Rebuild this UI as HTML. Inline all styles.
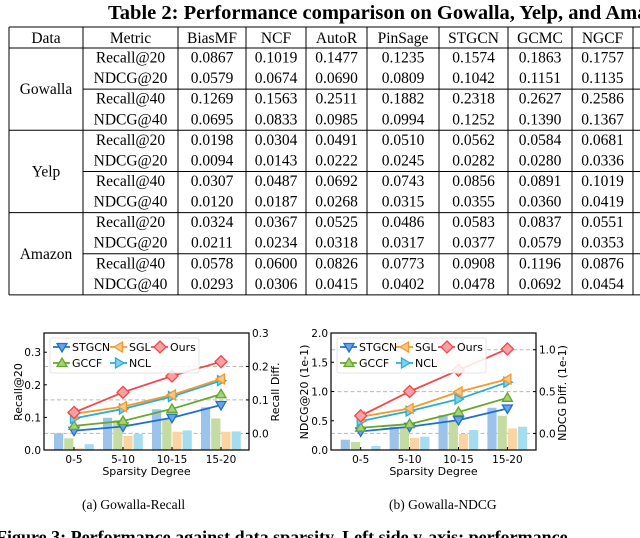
<!DOCTYPE html>
<html><head><meta charset="utf-8"><style>
html,body{margin:0;padding:0;background:#fff;}
svg{display:block;}
.serif{font-family:"Liberation Serif",serif;}
.sans{font-family:"DejaVu Sans","Liberation Sans",sans-serif;}
</style></head><body>
<svg id="page" width="640" height="538" viewBox="0 0 640 538" xmlns="http://www.w3.org/2000/svg">
<text class="serif" x="108" y="19" font-size="20.5" font-weight="bold">Table 2: Performance comparison on Gowalla, Yelp, and Amazon</text>
<g id="table"></g>
<g id="chart1"></g>
<g id="chart2"></g>
<text class="serif" x="82" y="509" font-size="13.5">(a)  Gowalla-Recall</text>
<text class="serif" x="389" y="509" font-size="13.5">(b)  Gowalla-NDCG</text>
<text class="serif" x="-4" y="543" font-size="18" font-weight="bold">Figure 3: Performance against data sparsity. Left side y-axis: performance</text>
</svg>
<script>
const NS='http://www.w3.org/2000/svg';
function mk(parent,tag,attrs,txt){const e=document.createElementNS(NS,tag);for(const k in attrs)e.setAttribute(k,attrs[k]);if(txt!==undefined)e.textContent=txt;parent.appendChild(e);return e;}

// ---------- TABLE ----------
const tableHeaders=['Data','Metric','BiasMF','NCF','AutoR','PinSage','STGCN','GCMC','NGCF',''];
const datasets=['Gowalla','Yelp','Amazon'];
const metrics=['Recall@20','NDCG@20','Recall@40','NDCG@40'];
const tableValues=[
['0.0867','0.1019','0.1477','0.1235','0.1574','0.1863','0.1757'],
['0.0579','0.0674','0.0690','0.0809','0.1042','0.1151','0.1135'],
['0.1269','0.1563','0.2511','0.1882','0.2318','0.2627','0.2586'],
['0.0695','0.0833','0.0985','0.0994','0.1252','0.1390','0.1367'],
['0.0198','0.0304','0.0491','0.0510','0.0562','0.0584','0.0681'],
['0.0094','0.0143','0.0222','0.0245','0.0282','0.0280','0.0336'],
['0.0307','0.0487','0.0692','0.0743','0.0856','0.0891','0.1019'],
['0.0120','0.0187','0.0268','0.0315','0.0355','0.0360','0.0419'],
['0.0324','0.0367','0.0525','0.0486','0.0583','0.0837','0.0551'],
['0.0211','0.0234','0.0318','0.0317','0.0377','0.0579','0.0353'],
['0.0578','0.0600','0.0826','0.0773','0.0908','0.1196','0.0876'],
['0.0293','0.0306','0.0415','0.0402','0.0478','0.0692','0.0454']];
(function(){
 const g=document.getElementById('table');
 const cx=[9,83,178,246,306,367,439,508,572,633,700];
 const top=27,hb=48,gh=82.3;
 const L=(x1,y1,x2,y2,w)=>{const l=mk(g,'line',{x1,y1,x2,y2,stroke:'#000','stroke-width':w||1});};
 L(cx[0],top,640,top);L(cx[0],hb,640,hb);
 for(let d=0;d<3;d++){const yb=hb+gh*(d+1);L(cx[0],yb,640,yb);L(cx[1],hb+gh*d+gh/2,640,hb+gh*d+gh/2);}
 for(let i=0;i<10;i++)L(cx[i],top,cx[i],hb+gh*3);
 tableHeaders.forEach((h,i)=>{if(!h)return;const t=mk(g,'text',{x:(cx[i]+cx[i+1])/2,y:43,'text-anchor':'middle','font-size':15.5,class:'serif'},h);});
 datasets.forEach((d,di)=>{
  const t=mk(g,'text',{x:(cx[0]+cx[1])/2,y:hb+gh*di+gh/2+5,'text-anchor':'middle','font-size':15.5,class:'serif'},d);
  
  metrics.forEach((m,mi)=>{
   const y=hb+gh*di+9.5+mi*20.6+5;
   const r=di*4+mi;
   const mt=mk(g,'text',{x:(cx[1]+cx[2])/2,y:y,'text-anchor':'middle','font-size':15.5,class:'serif'},m);
   
   tableValues[r].forEach((v,vi)=>{const vt=mk(g,'text',{x:(cx[vi+2]+cx[vi+3])/2,y:y,'text-anchor':'middle','font-size':15.5,class:'serif'},v);
    });
  });
 });
})();

// ---------- CHART DATA ----------
const categories=['0-5','5-10','10-15','15-20'];
const seriesNames=['STGCN','GCCF','SGL','NCL','Ours'];
const recallOurs=[0.115,0.177,0.227,0.271];
const recallSGL=[0.111,0.133,0.169,0.218];
const recallNCL=[0.097,0.126,0.164,0.213];
const recallGCCF=[0.074,0.089,0.126,0.171];
const recallSTGCN=[0.059,0.072,0.099,0.138];
const recallBarSTGCN=[0.051,0.099,0.125,0.131];
const recallBarGCCF=[0.036,0.092,0.094,0.097];
const recallBarSGL=[0.005,0.043,0.056,0.056];
const recallBarNCL=[0.018,0.049,0.060,0.057];
const recallLeftTicks=['0.0','0.1','0.2','0.3'];
const recallRightTicks=['0.0','0.1','0.2','0.3'];
const ndcgOurs=[0.585,1.0,1.364,1.727];
const ndcgSGL=[0.568,0.71,0.994,1.21];
const ndcgNCL=[0.494,0.665,0.869,1.159];
const ndcgGCCF=[0.381,0.443,0.648,0.892];
const ndcgSTGCN=[0.318,0.398,0.511,0.71];
const ndcgBarSTGCN=[0.176,0.398,0.597,0.722];
const ndcgBarGCCF=[0.136,0.398,0.494,0.585];
const ndcgBarSGL=[0.0,0.205,0.273,0.369];
const ndcgBarNCL=[0.068,0.227,0.341,0.398];
const ndcgLeftTicks=['0.0','0.5','1.0','1.5','2.0'];
const ndcgRightTicks=['0.0','0.5','1.0'];

const colors={STGCN:'#1f6fd1',GCCF:'#63a827',SGL:'#f59a2a',NCL:'#27aed8',Ours:'#f2474b'};
const barColors={STGCN:'#9cc4ea',GCCF:'#c4dca2',SGL:'#fbd4a3',NCL:'#a6dcf0'};
const fills={STGCN:'#6aa3e6',GCCF:'#a8d07a',SGL:'#f9c78a',NCL:'#7fd0ec',Ours:'#f8a0a2'};

function marker(g,type,x,y,name){
 const s=5;let p;
 if(type==='STGCN')p=`${x-s},${y-s*0.7} ${x+s},${y-s*0.7} ${x},${y+s}`;
 else if(type==='GCCF')p=`${x-s},${y+s*0.7} ${x+s},${y+s*0.7} ${x},${y-s}`;
 else if(type==='SGL')p=`${x+s*0.7},${y-s} ${x+s*0.7},${y+s} ${x-s},${y}`;
 else if(type==='NCL')p=`${x-s*0.7},${y-s} ${x-s*0.7},${y+s} ${x+s},${y}`;
 else p=`${x},${y-6} ${x+6},${y} ${x},${y+6} ${x-6},${y}`;
 const m=mk(g,'polygon',{points:p,fill:fills[type],stroke:colors[type],'stroke-width':1.3});
 
}

function drawChart(cfg){
 const g=document.getElementById(cfg.id);
 const {x0,x1,y0,y1}=cfg;
 const yL=v=>y1-(v-cfg.lmin)/(cfg.lmax-cfg.lmin)*(y1-y0);
 const yR=v=>y1-(v-cfg.rmin)/(cfg.rmax-cfg.rmin)*(y1-y0);
 const xC=i=>cfg.xc0+i*cfg.xstep;
 cfg.rightTicks.forEach(t=>{const y=yR(parseFloat(t));const l=mk(g,'line',{x1:x0,x2:x1,y1:y,y2:y,stroke:'#b8b8b8','stroke-dasharray':'4,2.5','stroke-width':1});});
 const bs=[['STGCN',cfg.bars[0]],['GCCF',cfg.bars[1]],['SGL',cfg.bars[2]],['NCL',cfg.bars[3]]];
 bs.forEach(([n,arr],k)=>{arr.forEach((v,i)=>{const bx=xC(i)-20+k*10.2;const r=mk(g,'rect',{x:bx,y:yL(v),width:9.2,height:y1-yL(v),fill:barColors[n]});});});
 const ls=[['STGCN',cfg.lines[0]],['GCCF',cfg.lines[1]],['NCL',cfg.lines[3]],['SGL',cfg.lines[2]],['Ours',cfg.lines[4]]];
 ls.forEach(([n,arr])=>{
  const pts=arr.map((v,i)=>xC(i)+','+yL(v)).join(' ');
  const pl=mk(g,'polyline',{points:pts,fill:'none',stroke:colors[n],'stroke-width':1.8});
  
  arr.forEach((v,i)=>marker(g,n,xC(i),yL(v),'point-'+n.toLowerCase()));
 });
 const fr=mk(g,'rect',{x:x0,y:y0,width:x1-x0,height:y1-y0,fill:'none',stroke:'#000','stroke-width':1.2});
 
 cfg.leftTicks.forEach(t=>{const y=yL(parseFloat(t));mk(g,'line',{x1:x0,x2:x0+3,y1:y,y2:y,stroke:'#000'});const tx=mk(g,'text',{x:x0-3,y:y+4,'text-anchor':'end','font-size':10.5,class:'sans'},t);});
 cfg.rightTicks.forEach(t=>{const y=yR(parseFloat(t));mk(g,'line',{x1:x1-3,x2:x1,y1:y,y2:y,stroke:'#000'});const tx=mk(g,'text',{x:x1+3,y:y+4,'font-size':10.5,class:'sans'},t);});
 categories.forEach((c,i)=>{mk(g,'line',{x1:xC(i),x2:xC(i),y1:y1,y2:y1-3,stroke:'#000'});const tx=mk(g,'text',{x:xC(i),y:y1+13,'text-anchor':'middle','font-size':10.5,class:'sans'},c);});
 const xt=mk(g,'text',{x:(x0+x1)/2,y:y1+25,'text-anchor':'middle','font-size':11,class:'sans'},'Sparsity Degree');
 const yt=mk(g,'text',{x:0,y:0,'text-anchor':'middle','font-size':11,class:'sans',transform:`translate(${cfg.ylx},${cfg.yly}) rotate(-90)`},cfg.ylabel);
 const rt=mk(g,'text',{x:0,y:0,'text-anchor':'middle','font-size':11,class:'sans',transform:`translate(${cfg.rlx},${cfg.rly}) rotate(-90)`},cfg.rlabel);
 const lg=mk(g,'g',{});
 const lb=mk(lg,'rect',{x:cfg.lgx,y:y0+5,width:cfg.lgw,height:35,fill:'#fff','fill-opacity':0.85,stroke:'#ddd','stroke-width':0.8,rx:2});
 
 const entries=[['STGCN',0,0],['SGL',1,0],['Ours',2,0],['GCCF',0,1],['NCL',1,1]];
 entries.forEach(([n,c,r])=>{
  const mx=cfg.lgm[c],y=y0+14+r*16;
  mk(lg,'line',{x1:mx-9,x2:mx+8,y1:y,y2:y,stroke:colors[n],'stroke-width':1.8});
  marker(lg,n,mx,y,'legend-marker-'+n.toLowerCase());
  const t=mk(lg,'text',{x:mx+10,y:y+4,'font-size':11,class:'sans'},n);
 });
}

drawChart({id:'chart1',x0:44,x1:249,y0:333,y1:450,lmin:0,lmax:0.359,rmin:-0.0496,rmax:0.3,xc0:74,xstep:49,
 bars:[recallBarSTGCN,recallBarGCCF,recallBarSGL,recallBarNCL],
 lines:[recallSTGCN,recallGCCF,recallSGL,recallNCL,recallOurs],
 leftTicks:recallLeftTicks,rightTicks:recallRightTicks,ylabel:'Recall@20',rlabel:'Recall Diff.',
 ylx:22,yly:392,rlx:279,rly:392,lgx:50,lgw:149,lgm:[62,119,160]});
drawChart({id:'chart2',x0:331,x1:536,y0:333,y1:450,lmin:0,lmax:2.0,rmin:-0.198,rmax:1.2,xc0:360.7,xstep:48.9,
 bars:[ndcgBarSTGCN,ndcgBarGCCF,ndcgBarSGL,ndcgBarNCL],
 lines:[ndcgSTGCN,ndcgGCCF,ndcgSGL,ndcgNCL,ndcgOurs],
 leftTicks:ndcgLeftTicks,rightTicks:ndcgRightTicks,ylabel:'NDCG@20 (1e-1)',rlabel:'NDCG Diff. (1e-1)',
 ylx:308,yly:392,rlx:566,rly:393,lgx:337,lgw:149,lgm:[349,405,447]});
</script>
</body></html>
